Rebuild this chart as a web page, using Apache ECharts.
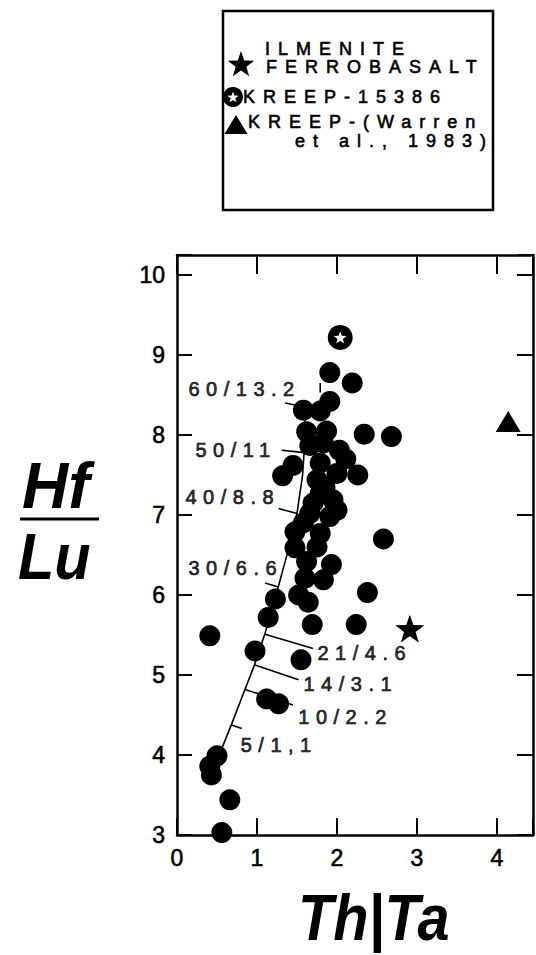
<!DOCTYPE html>
<html>
<head>
<meta charset="utf-8">
<title>Hf/Lu vs Th/Ta</title>
<script src="https://cdn.jsdelivr.net/npm/echarts@6/dist/echarts.min.js"></script>
<style>
  html, body { margin: 0; padding: 0; background: #fff; }
  #chart { width: 536px; height: 955px; }
  /* the original figure uses widely spaced, heavy lettering for its small texts */
  #chart text[style*="20px"], #chart text[font-size="20"], #chart text[font-size="20px"] {
    letter-spacing: 6.5px; stroke: #000; stroke-width: 0.6px;
  }
  #chart text[style*="18px"], #chart text[font-size="18"], #chart text[font-size="18px"] {
    letter-spacing: 8px; stroke: #000; stroke-width: 0.6px;
  }
  #chart text[style*="23px"], #chart text[font-size="23"], #chart text[font-size="23px"] {
    stroke: #000; stroke-width: 0.6px;
  }
</style>
</head>
<body>
<div id="chart"></div>
<script>
// basalt analyses: Th/Ta and Hf/Lu
var basaltTh = [1.91, 2.19, 1.58, 1.79, 1.91, 1.62, 1.87, 1.66, 2.03, 2.11, 2.34, 2.68, 1.45, 1.32, 2.26,
                1.79, 1.75, 2.00, 1.83, 1.79, 1.95, 1.91, 1.66, 1.58, 2.00, 1.79, 1.75, 1.475, 1.475, 1.70,
                1.85, 1.62, 1.60, 1.83, 1.93, 2.58, 2.38, 1.52, 1.64, 1.23, 1.14, 1.69, 2.24, 0.41, 0.975,
                1.55, 1.12, 1.27, 0.50, 0.41, 0.43, 0.66, 0.56];
var basaltHf = [8.78, 8.65, 8.31, 8.30, 8.42, 8.04, 8.05, 7.87, 7.81, 7.70, 8.01, 7.98, 7.62, 7.49, 7.50,
                7.65, 7.44, 7.52, 7.90, 7.27, 7.19, 6.98, 7.02, 6.90, 7.06, 6.77, 6.60, 6.79, 6.59, 7.15,
                7.35, 6.42, 6.21, 6.19, 6.38, 6.70, 6.03, 6.00, 5.91, 5.95, 5.72, 5.63, 5.63, 5.49, 5.30,
                5.19, 4.70, 4.64, 3.99, 3.86, 3.75, 3.44, 3.03];

// reference compositions
var ilmeniteFerrobasalt = [2.91, 5.58];
var kreep15386 = [2.04, 9.22];
var kreepWarren = [4.14, 8.17];

// mixing curve
var curveTh = [0.52, 0.68, 0.85, 0.97, 1.10, 1.26, 1.38, 1.50, 1.57, 1.59, 1.61];
var curveHf = [3.98, 4.38, 4.82, 5.13, 5.52, 6.08, 6.52, 7.02, 7.50, 7.80, 8.38];

// curve ticks (from point on curve to outer end) and their labels
var tickNames = ['60/13.2', '50/11', '40/8.8', '30/6.6', '21/4.6', '14/3.1', '10/2.2', '5/1,1', ''];
var tickFrom = [[1.60, 8.35], [1.59, 7.78], [1.50, 7.02], [1.27, 6.10], [1.10, 5.51], [0.975, 5.125], [0.85, 4.82], [0.68, 4.375], [1.79, 8.53]];
var tickTo = [[1.35, 8.40], [1.31, 7.81], [1.27, 7.08], [1.10, 6.15], [1.70, 5.33], [1.52, 4.94], [1.45, 4.625], [0.81, 4.33], [1.79, 8.65]];
var labelAt = [[0.1375, 8.575], [0.225, 7.81], [0.10, 7.225], [0.1375, 6.34], [1.75, 5.27], [1.575, 4.89], [1.51, 4.475], [0.79, 4.125]];

var STAR = 'path://M50,0L61.8,33.8L97.6,34.5L69,56.2L79.4,90.5L50,70L20.6,90.5L31,56.2L2.4,34.5L38.2,33.8Z';
var FONT = 'Liberation Sans';

function starPoints(cx, cy, R, r) {
  var pts = [];
  for (var i = 0; i < 10; i++) {
    var a = -Math.PI / 2 + i * Math.PI / 5;
    var rr = i % 2 ? r : R;
    pts.push([cx + rr * Math.cos(a), cy + rr * Math.sin(a)]);
  }
  return pts;
}

function intLabel(v) {
  return Math.abs(v - Math.round(v)) < 1e-6 ? String(Math.round(v)) : '';
}

function legendText(text, x, y) {
  return {
    type: 'text', x: x, y: y,
    style: { text: text, fontSize: 18, fontFamily: FONT, fill: '#000', align: 'left', verticalAlign: 'middle' }
  };
}

var chart = echarts.init(document.getElementById('chart'), null, { renderer: 'svg' });

var basalt = basaltTh.map(function (x, i) { return [x, basaltHf[i]]; });
var curve = curveTh.map(function (x, i) { return [x, curveHf[i]]; });
var solid = { color: '#000', opacity: 1 };

var series = [];
// mixing curve
series.push({
  type: 'line', data: curve, showSymbol: false, smooth: false,
  lineStyle: { color: '#000', width: 1.6, opacity: 1 }, silent: true
});
// ticks on the curve
tickFrom.forEach(function (p, i) {
  series.push({
    type: 'line', data: [p, tickTo[i]], showSymbol: false,
    lineStyle: { color: '#000', width: 1.6, opacity: 1 }, silent: true
  });
});
// tick labels
series.push({
  type: 'scatter', symbolSize: 1, itemStyle: { color: 'rgba(0,0,0,0)' }, silent: true,
  data: labelAt.map(function (p, i) { return { value: p, name: tickNames[i] }; }),
  label: {
    show: true, position: 'right', distance: 0, formatter: '{b}',
    fontSize: 20, fontFamily: FONT, color: '#000', align: 'left', verticalAlign: 'middle'
  }
});
// basalts
series.push({
  type: 'scatter', data: basalt, symbol: 'circle', symbolSize: 21,
  itemStyle: solid, silent: true
});
// ilmenite ferrobasalt
series.push({
  type: 'scatter', data: [ilmeniteFerrobasalt], symbol: STAR, symbolKeepAspect: true, symbolSize: 29,
  itemStyle: solid, silent: true
});
// KREEP-15386: black circle with white star
series.push({
  type: 'scatter', data: [kreep15386], symbol: 'circle', symbolSize: 25,
  itemStyle: solid, silent: true
});
series.push({
  type: 'scatter', data: [kreep15386], symbol: STAR, symbolKeepAspect: true, symbolSize: 13,
  itemStyle: { color: '#fff', opacity: 1 }, silent: true, z: 4
});
// KREEP (Warren et al., 1983)
series.push({
  type: 'scatter', data: [kreepWarren], symbol: 'triangle', symbolSize: [25, 21],
  itemStyle: solid, silent: true
});

var axisLine = { show: true, onZero: false, lineStyle: { color: '#000', width: 2.5 } };

chart.setOption({
  animation: false,
  backgroundColor: '#fff',
  textStyle: { fontFamily: FONT },
  grid: { left: 177, top: 255, width: 356, height: 580, outerBoundsMode: 'none' },
  xAxis: [{
    type: 'value', position: 'bottom', min: 0, max: 4.45, interval: 1,
    axisLine: axisLine,
    axisTick: { inside: true, length: 17, lineStyle: { color: '#000', width: 2 } },
    axisLabel: { fontSize: 23, fontFamily: FONT, color: '#000', margin: 11, formatter: intLabel },
    splitLine: { show: false }
  }, {
    type: 'value', position: 'top', min: 0, max: 4.45, interval: 1,
    axisLine: axisLine,
    axisTick: { inside: true, length: 19, lineStyle: { color: '#000', width: 2 } },
    axisLabel: { show: false },
    splitLine: { show: false }
  }],
  yAxis: [{
    type: 'value', position: 'left', min: 3, max: 10.25, interval: 1,
    axisLine: axisLine,
    axisTick: { inside: true, length: 15, lineStyle: { color: '#000', width: 2 } },
    axisLabel: { fontSize: 23, fontFamily: FONT, color: '#000', margin: 12, formatter: intLabel },
    splitLine: { show: false }
  }, {
    type: 'value', position: 'right', min: 3, max: 10.25, interval: 1,
    axisLine: axisLine,
    axisTick: { inside: true, length: 16, lineStyle: { color: '#000', width: 2 } },
    axisLabel: { show: false },
    splitLine: { show: false }
  }],
  series: series,
  graphic: [
    // legend box
    { type: 'rect', shape: { x: 223, y: 11, width: 270, height: 199 },
      style: { fill: 'none', stroke: '#000', lineWidth: 2.5 } },
    { type: 'polygon', shape: { points: starPoints(241, 65, 14, 5.6) }, style: { fill: '#000' } },
    { type: 'circle', shape: { cx: 233, cy: 97, r: 10 }, style: { fill: '#000' } },
    { type: 'polygon', shape: { points: starPoints(233, 97.5, 6, 2.4) }, style: { fill: '#fff' } },
    { type: 'polygon', shape: { points: [[236, 115], [247.5, 134], [224.5, 134]] }, style: { fill: '#000' } },
    legendText('ILMENITE', 265, 49),
    legendText('FERROBASALT', 266, 67),
    legendText('KREEP-15386', 243, 97),
    legendText('KREEP-(Warren', 248, 122),
    legendText('et al., 1983)', 295, 141),
    // y axis title: Hf over Lu
    { type: 'text', x: 22, y: 486,
      style: { text: 'Hf', font: 'italic bold 64px "Liberation Sans"', fill: '#000', align: 'left', verticalAlign: 'middle' } },
    { type: 'line', shape: { x1: 20, y1: 519, x2: 99, y2: 519 }, style: { stroke: '#000', lineWidth: 3 } },
    { type: 'text', x: 18, y: 557, scaleX: 0.93,
      style: { text: 'Lu', font: 'italic bold 64px "Liberation Sans"', fill: '#000', align: 'left', verticalAlign: 'middle' } },
    // x axis title
    { type: 'text', x: 298, y: 918, scaleX: 0.9,
      style: { text: 'Th|Ta', font: 'italic bold 64px "Liberation Sans"', fill: '#000', align: 'left', verticalAlign: 'middle' } }
  ]
});
</script>
</body>
</html>
